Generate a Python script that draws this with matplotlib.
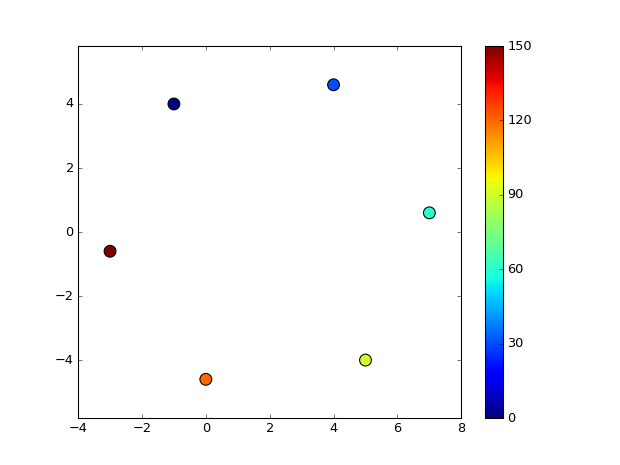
import matplotlib
matplotlib.use("Agg")
import matplotlib.pyplot as plt

plt.style.use("classic")

x_vals = [-1, 4, 7, 5, 0, -3]
y_vals = [4.0, 4.6, 0.6, -4.0, -4.6, -0.6]
c_vals = [0, 30, 60, 90, 120, 150]
cbar_ticks = [0, 30, 60, 90, 120, 150]

fig = plt.figure(figsize=(8, 6), dpi=77.5)
ax = fig.add_axes([0.126, 0.101, 0.618, 0.800])
sc = ax.scatter(x_vals, y_vals, c=c_vals, s=120, cmap="jet", vmin=0, vmax=150)
ax.set_xlim(-4, 8)
ax.set_ylim(-5.81, 5.81)
ax.set_xticks([-4, -2, 0, 2, 4, 6, 8])
ax.set_yticks([-4, -2, 0, 2, 4])

cax = fig.add_axes([0.782, 0.101, 0.029, 0.800])
cb = fig.colorbar(sc, cax=cax, ticks=cbar_ticks)

fig.savefig("out.png", dpi=77.5)
